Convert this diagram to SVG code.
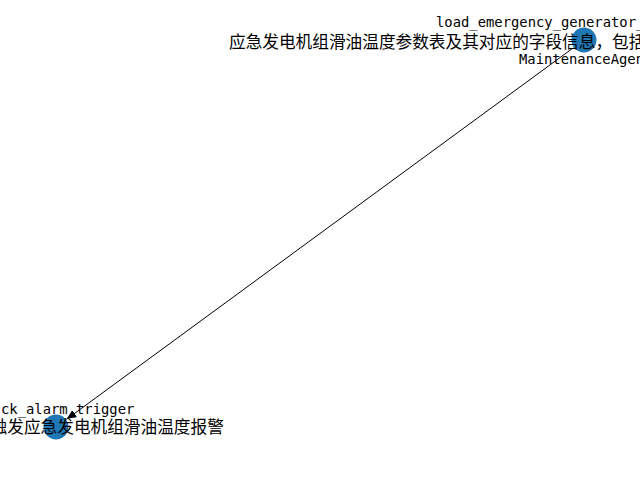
<svg xmlns="http://www.w3.org/2000/svg" width="640" height="480" viewBox="0 0 640 480">
<style>
.node{fill:#1f77b4;}
.lat{font-family:"DejaVu Sans Mono","Liberation Mono",monospace;font-size:14px;fill:#000;}
.cjk{font-family:"Noto Sans CJK SC","Noto Sans CJK JP",sans-serif;font-size:16.67px;fill:#000;}
.edge{stroke:#000;stroke-width:1;fill:none;}
</style>
<defs>
<marker id="arr" viewBox="0 0 10 8" refX="10" refY="4" markerWidth="10" markerHeight="8" markerUnits="userSpaceOnUse" orient="auto">
<path d="M0,0 L10,4 L0,8 Z" fill="#000"/>
</marker>
</defs>
<rect width="640" height="480" fill="#fff"/>
<g id="edges">
<line class="edge" x1="573.5" y1="47.7" x2="66.5" y2="419.3" marker-end="url(#arr)"/>
</g>
<g id="node-load">
<circle class="node" cx="584" cy="40" r="12.5"/>
<text class="lat" x="436" y="27" textLength="208.3" lengthAdjust="spacingAndGlyphs">load_emergency_generator_</text>
<text class="cjk" x="229" y="47.5">应急发电机组滑油温度参数表及其对应的字段信息，包括</text>
<text class="lat" x="519" y="64" textLength="125" lengthAdjust="spacingAndGlyphs">MaintenanceAgen</text>
</g>
<g id="node-check">
<circle class="node" cx="56" cy="427" r="12.5"/>
<text class="lat" x="1" y="414" textLength="133.3" lengthAdjust="spacingAndGlyphs">ck_alarm_trigger</text>
<text class="cjk" x="-9.4" y="433">触发应急发电机组滑油温度报警</text>
</g>
</svg>
